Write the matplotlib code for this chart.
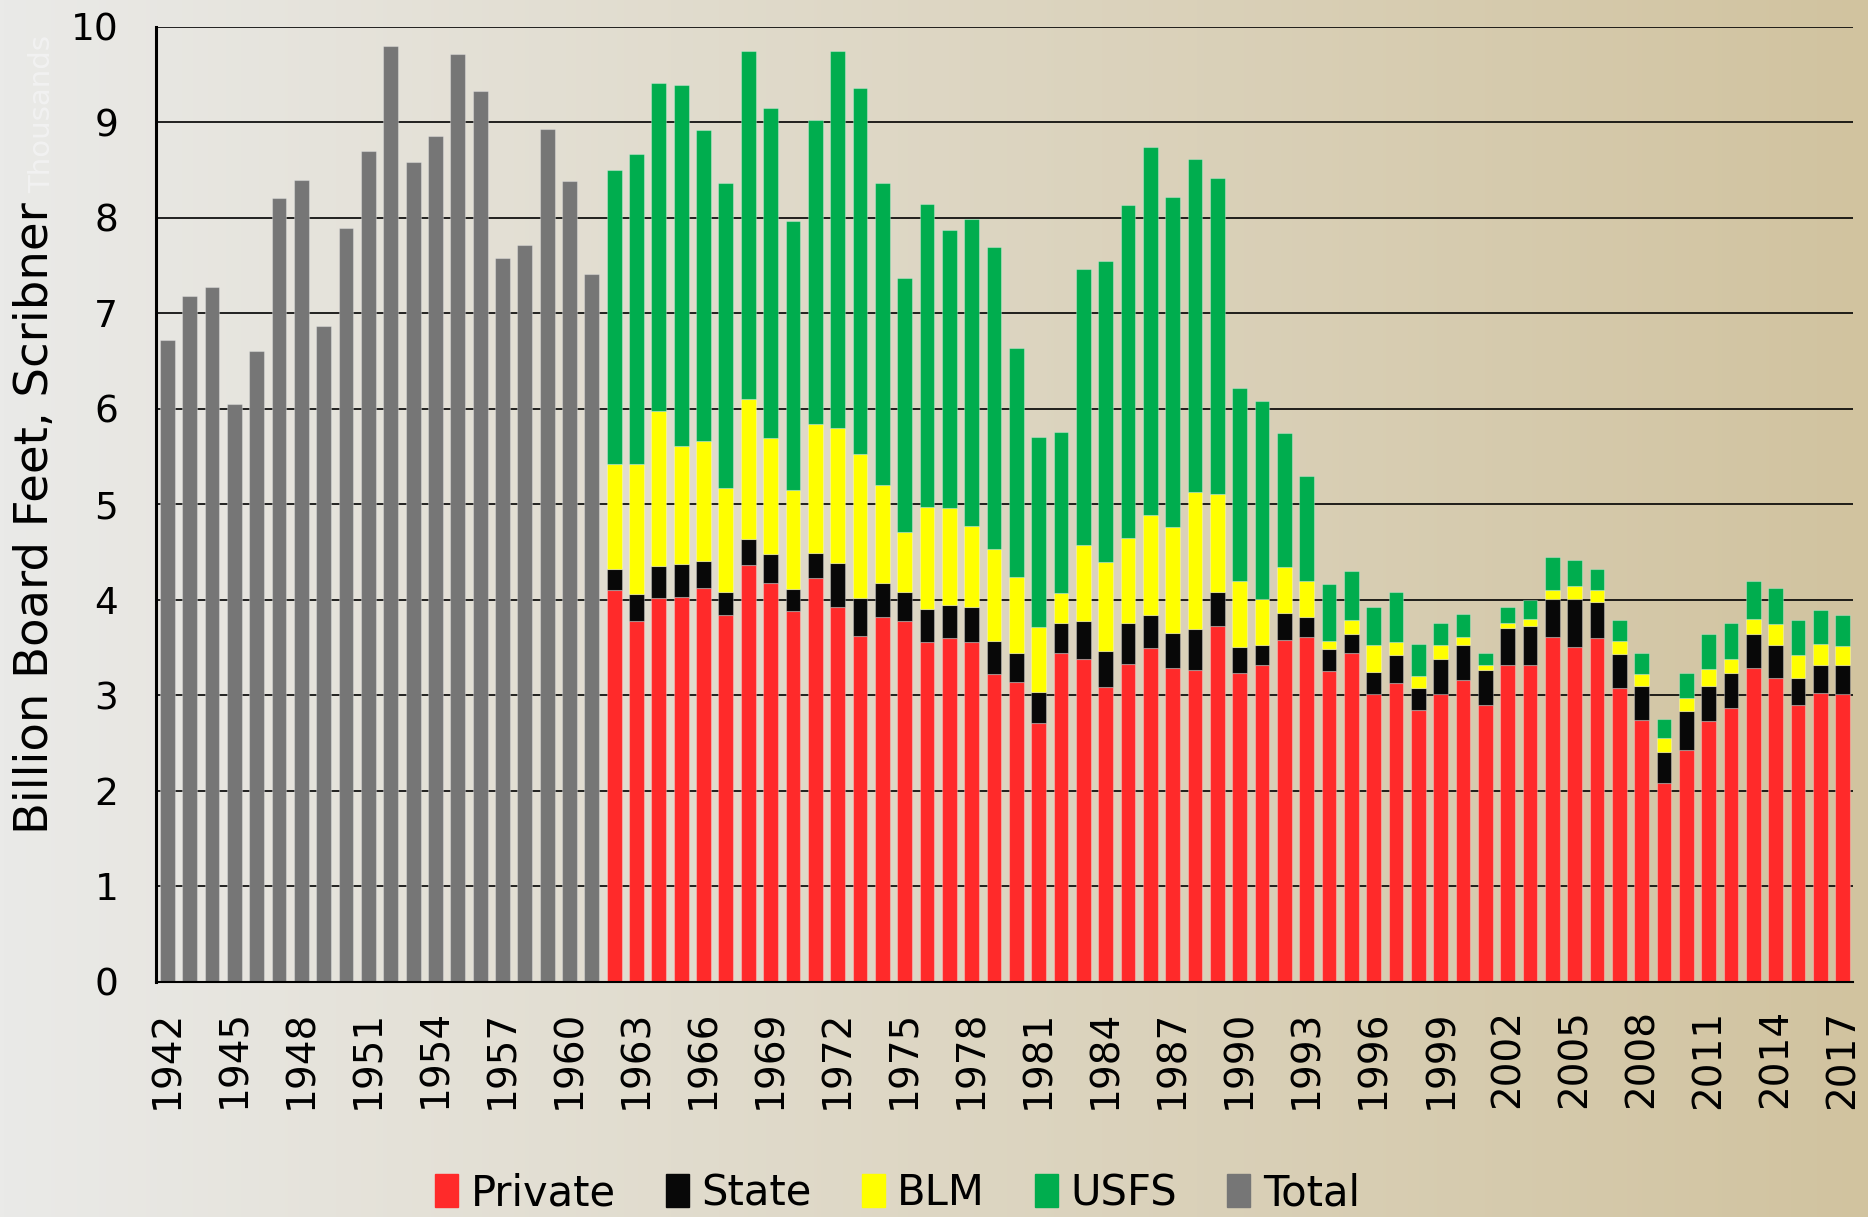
import matplotlib
matplotlib.use('Agg')
import matplotlib.pyplot as plt
import matplotlib.patches as mpatches
import numpy as np

# Total harvest before the ownership split (billion board feet)
early_years = list(range(1942, 1962))
total = [6.72, 7.18, 7.27, 6.05, 6.60, 8.21, 8.39, 6.87, 7.89, 8.70,
         9.80, 8.58, 8.86, 9.71, 9.33, 7.58, 7.71, 8.93, 8.38, 7.41]

# Split by owner, 1962-2017
years = list(range(1962, 2018))
private = [4.10, 3.78, 4.02, 4.03, 4.12, 3.84, 4.36, 4.17, 3.88, 4.23,
           3.92, 3.62, 3.82, 3.78, 3.56, 3.60, 3.56, 3.22, 3.14, 2.71,
           3.44, 3.38, 3.08, 3.33, 3.49, 3.28, 3.26, 3.72, 3.23, 3.31,
           3.58, 3.61, 3.25, 3.44, 3.01, 3.13, 2.84, 3.01, 3.16, 2.90,
           3.32, 3.31, 3.61, 3.50, 3.60, 3.07, 2.74, 2.08, 2.43, 2.73,
           2.87, 3.28, 3.18, 2.90, 3.02, 3.01]
state = [0.22, 0.28, 0.33, 0.34, 0.28, 0.24, 0.27, 0.31, 0.23, 0.26,
         0.46, 0.40, 0.35, 0.30, 0.34, 0.34, 0.36, 0.35, 0.30, 0.32,
         0.32, 0.40, 0.38, 0.43, 0.35, 0.37, 0.43, 0.36, 0.27, 0.21,
         0.28, 0.21, 0.23, 0.20, 0.23, 0.29, 0.23, 0.37, 0.36, 0.36,
         0.38, 0.41, 0.40, 0.51, 0.38, 0.36, 0.35, 0.32, 0.40, 0.37,
         0.36, 0.36, 0.34, 0.28, 0.29, 0.30]
blm = [1.10, 1.36, 1.63, 1.24, 1.26, 1.09, 1.47, 1.21, 1.04, 1.35,
       1.42, 1.51, 1.03, 0.63, 1.07, 1.02, 0.85, 0.96, 0.80, 0.68,
       0.31, 0.79, 0.93, 0.89, 1.05, 1.11, 1.44, 1.03, 0.70, 0.49,
       0.48, 0.37, 0.09, 0.15, 0.28, 0.14, 0.13, 0.14, 0.09, 0.05,
       0.05, 0.08, 0.09, 0.13, 0.12, 0.14, 0.13, 0.15, 0.14, 0.17,
       0.15, 0.16, 0.22, 0.24, 0.22, 0.20]
usfs = [3.08, 3.25, 3.43, 3.78, 3.26, 3.19, 3.65, 3.46, 2.82, 3.18,
        3.95, 3.83, 3.16, 2.66, 3.17, 2.91, 3.22, 3.16, 2.40, 1.99,
        1.69, 2.89, 3.16, 3.48, 3.85, 3.46, 3.49, 3.31, 2.02, 2.07,
        1.40, 1.10, 0.59, 0.51, 0.40, 0.52, 0.33, 0.24, 0.24, 0.13,
        0.17, 0.20, 0.35, 0.27, 0.22, 0.22, 0.22, 0.20, 0.26, 0.37,
        0.37, 0.40, 0.38, 0.37, 0.36, 0.33]

tick_years = list(range(1942, 2018, 3))

col_private = '#ff2a2a'
col_state = '#080808'
col_blm = '#ffff00'
col_usfs = '#00ad4e'
col_total = '#767676'

plt.rcParams['font.family'] = ['DejaVu Sans']

fig = plt.figure(figsize=(18.68, 12.17), dpi=100)

# background gradient, light grey on the left to tan on the right
bg = fig.add_axes([0, 0, 1, 1], zorder=-10)
left_c = np.array([234, 234, 232]) / 255.0
right_c = np.array([209, 195, 159]) / 255.0
t = np.linspace(0, 1, 512)
grad = (left_c[None, :] * (1 - t[:, None]) + right_c[None, :] * t[:, None])[None, :, :]
bg.imshow(grad, aspect='auto', extent=[0, 1, 0, 1])
bg.axis('off')

ax = fig.add_axes([0.0834, 0.1935, 0.9086, 0.7845])
ax.set_facecolor('none')

w = 0.66
edge = dict(edgecolor=(1, 1, 1, 0.3), linewidth=0.8)
ax.bar(early_years, total, width=w, color=col_total, zorder=3, **edge)

b1 = np.array(private)
b2 = b1 + np.array(state)
b3 = b2 + np.array(blm)
ax.bar(years, private, width=w, color=col_private, zorder=3, **edge)
ax.bar(years, state, width=w, bottom=b1, color=col_state, zorder=3, **edge)
ax.bar(years, blm, width=w, bottom=b2, color=col_blm, zorder=3, **edge)
ax.bar(years, usfs, width=w, bottom=b3, color=col_usfs, zorder=3, **edge)

ax.set_xlim(1941.48, 2017.46)
ax.set_ylim(0, 10)
ax.set_yticks(range(0, 11))
ax.yaxis.grid(True, color='black', linewidth=1.2, zorder=1)
ax.set_axisbelow(True)
ax.set_xticks(tick_years)
ax.set_xticklabels([str(y) for y in tick_years], rotation=90, fontsize=28)
ax.tick_params(axis='x', length=0, pad=20)
ax.tick_params(axis='y', length=0, pad=27, labelsize=27)

for s in ['top', 'right']:
    ax.spines[s].set_visible(False)
ax.spines['left'].set_linewidth(2.2)
ax.spines['bottom'].set_linewidth(1.5)
ax.spines['left'].set_zorder(5)
ax.spines['bottom'].set_zorder(5)

fig.text(0.019, 0.574, 'Billion Board Feet, Scribner', rotation=90,
         ha='center', va='center', fontsize=33.5, color='black')
fig.text(0.0225, 0.906, 'Thousands', rotation=90, ha='center', va='center',
         fontsize=21, color='#f2f2f2')

handles = [mpatches.Patch(color=c) for c in
           [col_private, col_state, col_blm, col_usfs, col_total]]
labels = ['Private', 'State', 'BLM', 'USFS', 'Total']
fig.legend(handles, labels, loc='center', bbox_to_anchor=(0.4805, 0.0195),
           ncol=5, frameon=False, fontsize=30, handlelength=0.55,
           handleheight=0.85, handletextpad=0.3, columnspacing=1.2)

plt.savefig('out.png', dpi=100)
